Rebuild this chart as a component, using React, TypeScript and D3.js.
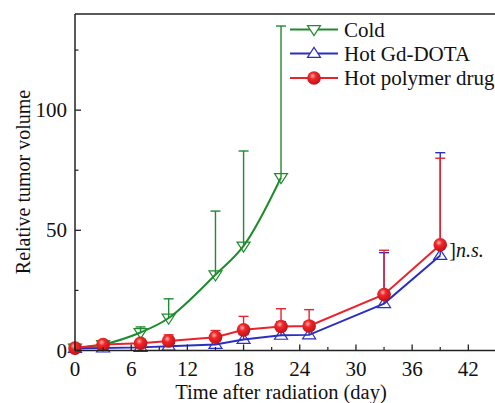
import React from "react";
import * as d3 from "d3";

const coldDays = [0, 3, 7, 10, 15, 18, 22];
const coldMean = [1, 2.5, 7.5, 13.5, 31.5, 43.5, 72];
const coldErr = [0.5, 1, 2.3, 8, 26.5, 39.5, 63];

const hotDays = [0, 3, 7, 10, 15, 18, 22, 25, 33, 39];
const gdMean = [0.8, 1, 1.3, 1.8, 2.5, 4.6, 6.3, 6.5, 19.5, 39.5];
const gdErr = [0.3, 0.5, 0.7, 1, 1.5, 2, 5.7, 5.5, 21.2, 42.8];
const polyMean = [1, 2.5, 3, 4, 5.5, 8.6, 10, 10.2, 23.3, 44];
const polyErr = [0.5, 1, 1.5, 2.5, 2.8, 5.6, 7.4, 6.8, 18.4, 36];

const xTicks = [0, 6, 12, 18, 24, 30, 36, 42];
const xMinor = [3, 9, 15, 21, 27, 33, 39, 45];
const yTicks = [0, 50, 100];
const yMinor = [25, 75, 125];

const seriesNames = ["Cold", "Hot Gd-DOTA", "Hot polymer drug"];
const GREEN = "#1f8a2e";
const BLUE = "#2a2fc0";
const RED = "#e8232b";
const FONT = "Liberation Serif, Times New Roman, DejaVu Serif, serif";

export default function App() {
  const W = 495, H = 403;
  const x0 = 75, y0 = 350.5, yTop = 14;
  const x = d3.scaleLinear().domain([0, 45]).range([x0, x0 + 45 * 9.365]);
  const y = d3.scaleLinear().domain([0, 140]).range([y0, yTop]);

  const smooth = d3.line<number>().x((_, i) => x(coldDays[i])).y((d) => y(d)).curve(d3.curveCatmullRom.alpha(0.5));
  const lin = d3.line<number>().x((_, i) => x(hotDays[i])).y((d) => y(d));

  const triDown = (cx: number, cy: number, s = 6.5) =>
    `M${cx - s},${cy - s * 0.6} L${cx + s},${cy - s * 0.6} L${cx},${cy + s * 0.95} Z`;
  const triUp = (cx: number, cy: number, s = 6.5) =>
    `M${cx - s},${cy + s * 0.6} L${cx + s},${cy + s * 0.6} L${cx},${cy - s * 0.95} Z`;

  const errBars = (days: number[], mean: number[], err: number[], color: string) =>
    days.map((d, i) => {
      const cx = x(d);
      const yt = y(mean[i] + err[i]);
      return (
        <g key={"e" + color + i} stroke={color} strokeWidth={1.4}>
          <line x1={cx} x2={cx} y1={y(mean[i])} y2={yt} />
          <line x1={cx - 5} x2={cx + 5} y1={yt} y2={yt} />
        </g>
      );
    });

  const legendY = [29.5, 53.5, 78];
  const txt = { fontFamily: FONT };

  return (
    <svg width={W} height={H} style={{ position: "absolute", left: 0, top: 0, background: "#fff", fontFamily: FONT }}>
      <defs>
        <radialGradient id="ball" cx="40%" cy="35%" r="65%">
          <stop offset="0%" stopColor="#ffb0b0" />
          <stop offset="35%" stopColor="#f02828" />
          <stop offset="100%" stopColor="#c0101a" />
        </radialGradient>
      </defs>

      {errBars(coldDays, coldMean, coldErr, GREEN)}
      {errBars(hotDays, gdMean, gdErr, BLUE)}
      {errBars(hotDays, polyMean, polyErr, RED)}

      <path d={smooth(coldMean) || ""} fill="none" stroke={GREEN} strokeWidth={2} />
      <path d={lin(gdMean) || ""} fill="none" stroke={BLUE} strokeWidth={2} />
      <path d={lin(polyMean) || ""} fill="none" stroke={RED} strokeWidth={2} />

      {coldDays.map((d, i) => (
        <path key={"c" + i} d={triDown(x(d), y(coldMean[i]))} fill="none" stroke={GREEN} strokeWidth={1.2} />
      ))}
      {hotDays.map((d, i) => (
        <path key={"b" + i} d={triUp(x(d), y(gdMean[i]))} fill="none" stroke={BLUE} strokeWidth={1.2} />
      ))}
      {hotDays.map((d, i) => (
        <circle key={"r" + i} cx={x(d)} cy={y(polyMean[i])} r={6.8} fill="url(#ball)" />
      ))}

      <text x={x(39) + 9} y={y(42) + 7} fontSize={20} fill="#111" style={txt}>
        ]<tspan fontStyle="italic">n.s.</tspan>
      </text>

      <line x1={x0} x2={W} y1={y0} y2={y0} stroke="#222" strokeWidth={1.5} />
      <line x1={x0} x2={W} y1={yTop} y2={yTop} stroke="#222" strokeWidth={1.5} />
      <line x1={x0} x2={x0} y1={yTop} y2={y0} stroke="#222" strokeWidth={1.5} />

      {xTicks.map((t) => (
        <g key={"xt" + t}>
          <line x1={x(t)} x2={x(t)} y1={y0} y2={y0 - 6} stroke="#222" strokeWidth={1.3} />
          <text x={x(t)} y={375.5} textAnchor="middle" fontSize={21} fill="#111" style={txt}>{t}</text>
        </g>
      ))}
      {xMinor.map((t) => (
        <line key={"xm" + t} x1={x(t)} x2={x(t)} y1={y0} y2={y0 - 3.5} stroke="#222" strokeWidth={1.2} />
      ))}
      {yTicks.map((t) => (
        <g key={"yt" + t}>
          <line x1={x0} x2={x0 + 6} y1={y(t)} y2={y(t)} stroke="#222" strokeWidth={1.3} />
          <text x={67} y={y(t) + 7} textAnchor="end" fontSize={21} fill="#111" style={txt}>{t}</text>
        </g>
      ))}
      {yMinor.map((t) => (
        <line key={"ym" + t} x1={x0} x2={x0 + 3.5} y1={y(t)} y2={y(t)} stroke="#222" strokeWidth={1.2} />
      ))}

      <text x={281} y={398.5} textAnchor="middle" fontSize={20.5} fill="#111" style={txt}>Time after radiation (day)</text>
      <text transform={`translate(30,182) rotate(-90)`} textAnchor="middle" fontSize={20} fill="#111" style={txt}>Relative tumor volume</text>

      {seriesNames.map((n, i) => {
        const ly = legendY[i];
        const color = [GREEN, BLUE, RED][i];
        return (
          <g key={"lg" + i}>
            <line x1={290} x2={338} y1={ly} y2={ly} stroke={color} strokeWidth={2} />
            {i === 0 && <path d={triDown(314, ly)} fill="#fff" stroke={color} strokeWidth={1.2} />}
            {i === 1 && <path d={triUp(314, ly)} fill="#fff" stroke={color} strokeWidth={1.2} />}
            {i === 2 && <circle cx={314} cy={ly} r={6.8} fill="url(#ball)" />}
            <text x={344} y={ly + 7} fontSize={21} fill="#111" style={txt}>{n}</text>
          </g>
        );
      })}
    </svg>
  );
}
